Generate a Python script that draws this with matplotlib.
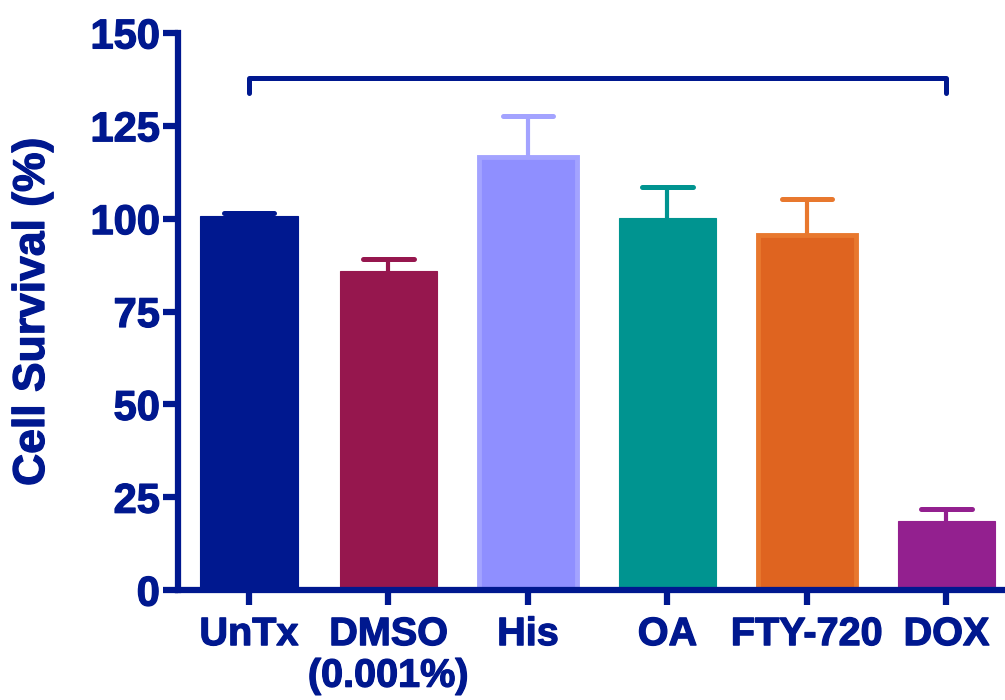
import matplotlib
matplotlib.use('Agg')
import matplotlib.pyplot as plt
import matplotlib.patheffects as pe
import numpy as np

# data
groups = ['UnTx', 'DMSO\n(0.001%)', 'His', 'OA', 'FTY-720', 'DOX']
survival = [100.6, 85.9, 116.6, 100.2, 95.6, 18.6]
err_up = [0.9, 3.2, 11.0, 8.3, 9.7, 3.3]
fill_colors = ['#00188F', '#96174E', '#8F8FFF', '#009490', '#DF6420', '#93208F']
edge_colors = ['#00188F', '#96174E', '#A3A3FF', '#009490', '#E8782E', '#93208F']
bracket_y = 137.8
bracket_drop = 3.9

navy = '#00188F'
plt.rcParams['font.family'] = ['Liberation Sans', 'DejaVu Sans']
plt.rcParams['font.weight'] = 'bold'
thick = [pe.withStroke(linewidth=0.9, foreground=navy)]

fig = plt.figure(figsize=(10.05, 7.0), dpi=100)
ax = fig.add_axes([0.177, 0.157, 0.823, 0.796])

x = np.arange(len(groups))
bw = 0.70
cap = 0.18
for i in range(len(groups)):
    ax.bar(x[i], survival[i], width=bw, color=fill_colors[i],
           edgecolor=edge_colors[i],
           linewidth=3.5 if edge_colors[i] != fill_colors[i] else 0.8,
           zorder=2)
    top = survival[i] + err_up[i]
    # upper error bar only
    ax.plot([x[i], x[i]], [survival[i], top], color=edge_colors[i], lw=3,
            solid_capstyle='butt', zorder=3)
    ax.plot([x[i] - cap, x[i] + cap], [top, top], color=edge_colors[i], lw=3.6,
            solid_capstyle='round', zorder=3)

# significance bracket from UnTx to DOX
ax.plot([x[0], x[0], x[-1], x[-1]],
        [bracket_y - bracket_drop, bracket_y, bracket_y, bracket_y - bracket_drop],
        color=navy, lw=3.6, solid_joinstyle='round', solid_capstyle='round',
        clip_on=False, zorder=4)

ax.set_ylim(0, 150)
ax.set_xlim(-0.51, 5.42)
ax.set_yticks([0, 25, 50, 75, 100, 125, 150])
ax.set_xticks(x)
ax.set_xticklabels(groups, linespacing=1.12)

for s in ['top', 'right']:
    ax.spines[s].set_visible(False)
for s in ['left', 'bottom']:
    ax.spines[s].set_linewidth(4.5)
    ax.spines[s].set_color(navy)
    ax.spines[s].set_zorder(5)

ax.tick_params(axis='both', colors=navy, width=4.5, length=11)
ax.tick_params(axis='x', pad=7, labelsize=28.5)
ax.tick_params(axis='y', pad=2, labelsize=30)
for lab in ax.get_xticklabels() + ax.get_yticklabels():
    lab.set_fontweight('bold')
    lab.set_color(navy)
    lab.set_path_effects(thick)

ax.set_ylabel('Cell Survival (%)', fontsize=32, fontweight='bold', color=navy,
              path_effects=thick)
ax.yaxis.set_label_coords(-0.151, 0.5)

fig.savefig('out.png', dpi=100)
